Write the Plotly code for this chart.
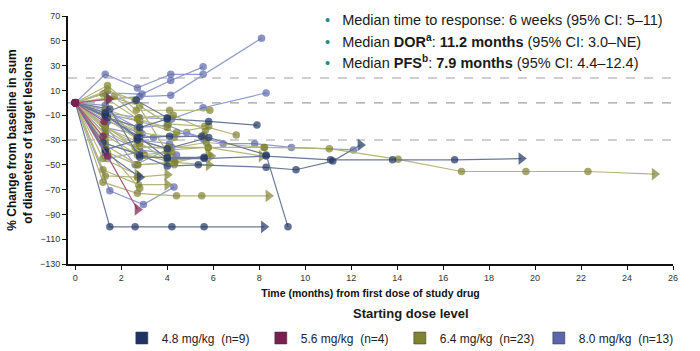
import plotly.graph_objects as go

# ---------------- data ----------------
groups = ["4.8 mg/kg  (n=9)", "5.6 mg/kg  (n=4)", "6.4 mg/kg  (n=23)", "8.0 mg/kg  (n=13)"]
marker_colors = ["#1F3464", "#7A1F52", "#7F822E", "#5A67AA"]
line_colors = ["#6B7898", "#A55A82", "#B4B67E", "#909BCB"]

# each patient: (times in months, % change, ends with arrow = ongoing)
dose_48 = [
    ([0, 1.5, 2.6, 4.2, 5.6, 8.2], [0, -100, -100, -100, -100, -100], True),
    ([0, 1.3, 2.8, 4.0, 5.6, 8.3, 11.1, 13.8, 16.5, 19.4], [0, -10, -28, -45, -45, -43, -46, -46, -46, -45], True),
    ([0, 1.2, 2.8, 4.0, 5.35, 8.3, 9.6, 11.2, 12.4], [0, -32, -42, -51, -50, -52, -54, -47, -34], True),
    ([0, 1.3, 2.7, 4.0, 5.8, 8.3, 9.25], [0, -38, -30, -37, -28, -42, -100], False),
    ([0, 1.4, 2.8, 4.0, 5.8, 7.9], [0, -12, -20, -13, -15, -18], False),
    ([0, 1.3, 2.8], [0, -40, -60], True),
    ([0, 1.5, 2.8, 4.0, 5.6], [0, -5, -44, -44, -44], False),
    ([0, 1.3, 2.7, 4.1, 5.5], [0, -10, -28, -27, -27], False),
    ([0, 1.3, 2.65, 4.0], [0, -8, 2, -12], False),
]
dose_56 = [
    ([0, 1.4, 2.7], [0, -43, -86], True),
    ([0, 1.2], [0, -27], False),
    ([0, 1.25], [0, -15], False),
    ([0, 1.45], [0, 3], True),
]
dose_64 = [
    ([0, 1.3, 2.8, 4.0, 5.7, 8.2, 11.05, 14.04, 16.8, 19.6, 22.3, 25.2], [0, -20, -35, -37, -32, -36, -37, -45.6, -55.4, -55.4, -55.4, -57.5], True),
    ([0, 1.2, 2.7, 4.4, 5.5, 8.4], [0, -64, -73, -75, -75, -75], True),
    ([0, 1.3, 2.7, 4.0], [0, -59, -60, -58], True),
    ([0, 1.2, 2.75, 4.0], [0, -54, -66, -66], True),
    ([0, 1.4, 2.7, 4.3, 5.8], [0, -40, -50, -48, -50], True),
    ([0, 1.3, 3.0, 4.0, 5.9], [0, -33, -42, -47, -43], True),
    ([0, 1.4, 2.65, 4.1, 5.85], [0, 14, -6, -6, -6], False),
    ([0, 1.2, 2.8, 4.04, 5.63, 7.0], [0, 7, -2.5, -17, -19, -26], False),
    ([0, 1.7, 2.75, 4.26, 5.66], [0, 5, -12, -10, -22], False),
    ([0, 1.3, 2.8, 4.4, 5.8], [0, -5, -15, -24, -19], False),
    ([0, 1.3, 2.6, 4.04, 5.78, 8.23], [0, -22, -36, -36, -36, -36], False),
    ([0, 1.3, 2.67, 4.1, 5.78, 8.1], [0, -12, -29, -38, -36, -43], True),
    ([0, 1.3, 2.72, 4.33, 5.78], [0, -34, -50, -48, -42], True),
    ([0, 1.2, 3.0, 4.26], [0, -17, -42, -46], False),
    ([0, 1.4, 2.7, 4.0], [0, 3, -13, -20], False),
    ([0, 1.3, 2.7], [0, -8, -22], False),
    ([0, 1.4, 2.8, 4.3, 5.6], [0, -12, -24, -28, -26], False),
    ([0, 1.3, 2.7, 4.2], [0, -26, -42, -40], False),
    ([0, 1.2, 2.7], [0, -45, -58], True),
    ([0, 1.3, 2.8], [0, -37, -69], False),
    ([0, 1.3], [0, -30], False),
    ([0, 1.4, 2.6, 4.0], [0, 10, 2, -40], False),
    ([0, 1.3, 2.8, 4.3], [0, -20, -32, -50], False),
]
dose_80 = [
    ([0, 1.3, 2.7, 4.15, 5.56], [0, 23, 12, 23, 23], False),
    ([0, 1.3, 2.9, 4.15, 5.56], [0, 8, 7, 18, 29], False),
    ([0, 1.4, 2.8, 4.15, 8.1], [0, 3, 5, 6, 52], False),
    ([0, 1.3, 2.8, 4.19, 5.56, 8.3], [0, -8, -12, -13, -4, 8], False),
    ([0, 1.5, 2.96, 4.29], [0, -71, -82, -68], False),
    ([0, 1.3, 3.4, 4.84, 6.43, 7.8, 9.4, 12.1], [0, -20, -28, -24, -33, -33, -36, -38], False),
    ([0, 1.3, 2.8, 4.4], [0, -25, -38, -42], False),
    ([0, 1.4, 2.8], [0, -9, -15], False),
    ([0, 1.3, 2.7, 4.1], [0, -2, -30, -33], False),
    ([0, 1.4, 2.9], [0, -15, -25], False),
    ([0, 1.3, 2.7, 4.0, 5.6], [0, -6, -20, -18, -30], False),
    ([0, 1.4, 2.7], [0, -45, -40], False),
    ([0, 1.3, 2.6, 4.2], [0, -18, -50, -36], False),
]
all_doses = [dose_48, dose_56, dose_64, dose_80]

y_ticks = list(range(-130, 71, 20))
x_ticks = list(range(0, 27, 2))
ref_lines = [20, 0, -30]

# ---------------- figure ----------------
fig = go.Figure()

draw_order = [3, 2, 0, 1]
for gi in draw_order:
    for (t, v, arrow) in all_doses[gi]:
        symbols = ["circle"] * len(t)
        sizes = [7.5] * len(t)
        if arrow:
            symbols[-1] = "triangle-right"
            sizes[-1] = 11
        fig.add_trace(go.Scatter(
            x=t, y=v, mode="lines+markers",
            line=dict(color=line_colors[gi], width=1.2),
            marker=dict(color=marker_colors[gi], symbol=symbols, size=sizes, line=dict(width=0)),
            showlegend=False, hoverinfo="skip"))

# baseline marker on top
fig.add_trace(go.Scatter(x=[0], y=[0], mode="markers",
                         marker=dict(color=marker_colors[1], size=8),
                         showlegend=False, hoverinfo="skip"))

for gi, name in enumerate(groups):
    fig.add_trace(go.Scatter(x=[None], y=[None], mode="markers", name=name,
                             marker=dict(color=marker_colors[gi], symbol="square", size=12,
                                         line=dict(color="#333333", width=0.5))))

for yv in ref_lines:
    fig.add_shape(type="line", xref="paper", x0=0, x1=1, y0=yv, y1=yv,
                  line=dict(color="#A0A0A0", width=1.2, dash="dash"), layer="below")


def py(pix):
    # pixel row -> paper y (plot area spans rows 11..264)
    return (264 - pix) / 253


bullets = [
    "Median time to response: 6 weeks (95% CI: 5–11)",
    "Median <b>DOR<sup>a</sup></b>: <b>11.2 months</b> (95% CI: 3.0–NE)",
    "Median <b>PFS<sup>b</sup></b>: <b>7.9 months</b> (95% CI: 4.4–12.4)",
]
row_pix = [15, 36, 58]
for i, txt in enumerate(bullets):
    fig.add_annotation(xref="paper", yref="paper", x=(322 - 66) / 607, y=py(row_pix[i]),
                       xanchor="left", yanchor="middle", showarrow=False, align="left",
                       text="<span style='color:#1E8C8C'>•</span>   " + txt,
                       font=dict(family="Liberation Sans, Arial", size=14.5, color="#1a1a1a"))

fig.add_annotation(xref="paper", yref="paper", x=(410 - 66) / 607, y=py(314),
                   xanchor="center", yanchor="middle", showarrow=False,
                   text="<b>Starting dose level</b>",
                   font=dict(family="Liberation Sans, Arial", size=13, color="#1a1a1a"))

fig.update_layout(
    width=700, height=351,
    margin=dict(l=66, r=27, t=11, b=87),
    paper_bgcolor="white", plot_bgcolor="white",
    font=dict(family="Liberation Sans, Arial", color="#222222"),
    xaxis=dict(range=[-0.32, 26], tickvals=x_ticks, showgrid=False, zeroline=False,
               showline=True, linecolor="#111111", linewidth=2,
               ticks="outside", ticklen=4, tickcolor="#111111",
               tickfont=dict(size=9, color="#333333"),
               title=dict(text="<b>Time (months) from first dose of study drug</b>",
                          font=dict(size=10.5, color="#111111"), standoff=8)),
    yaxis=dict(range=[-130, 70], tickvals=y_ticks, showgrid=False, zeroline=False,
               showline=True, linecolor="#111111", linewidth=2,
               ticks="outside", ticklen=4, tickcolor="#111111",
               tickfont=dict(size=9, color="#333333"),
               title=dict(text="<b>% Change from baseline in sum<br>of diameters of target lesions</b>",
                          font=dict(size=12, color="#111111"), standoff=5)),
    legend=dict(orientation="h", x=(120 - 66) / 607, xanchor="left",
                yref="container", y=1 - 338 / 351, yanchor="middle",
                font=dict(family="Liberation Sans, Arial", size=12, color="#222222"),
                entrywidth=94, entrywidthmode="pixels", itemwidth=30, tracegroupgap=0),
)

fig.write_html("out.html")
